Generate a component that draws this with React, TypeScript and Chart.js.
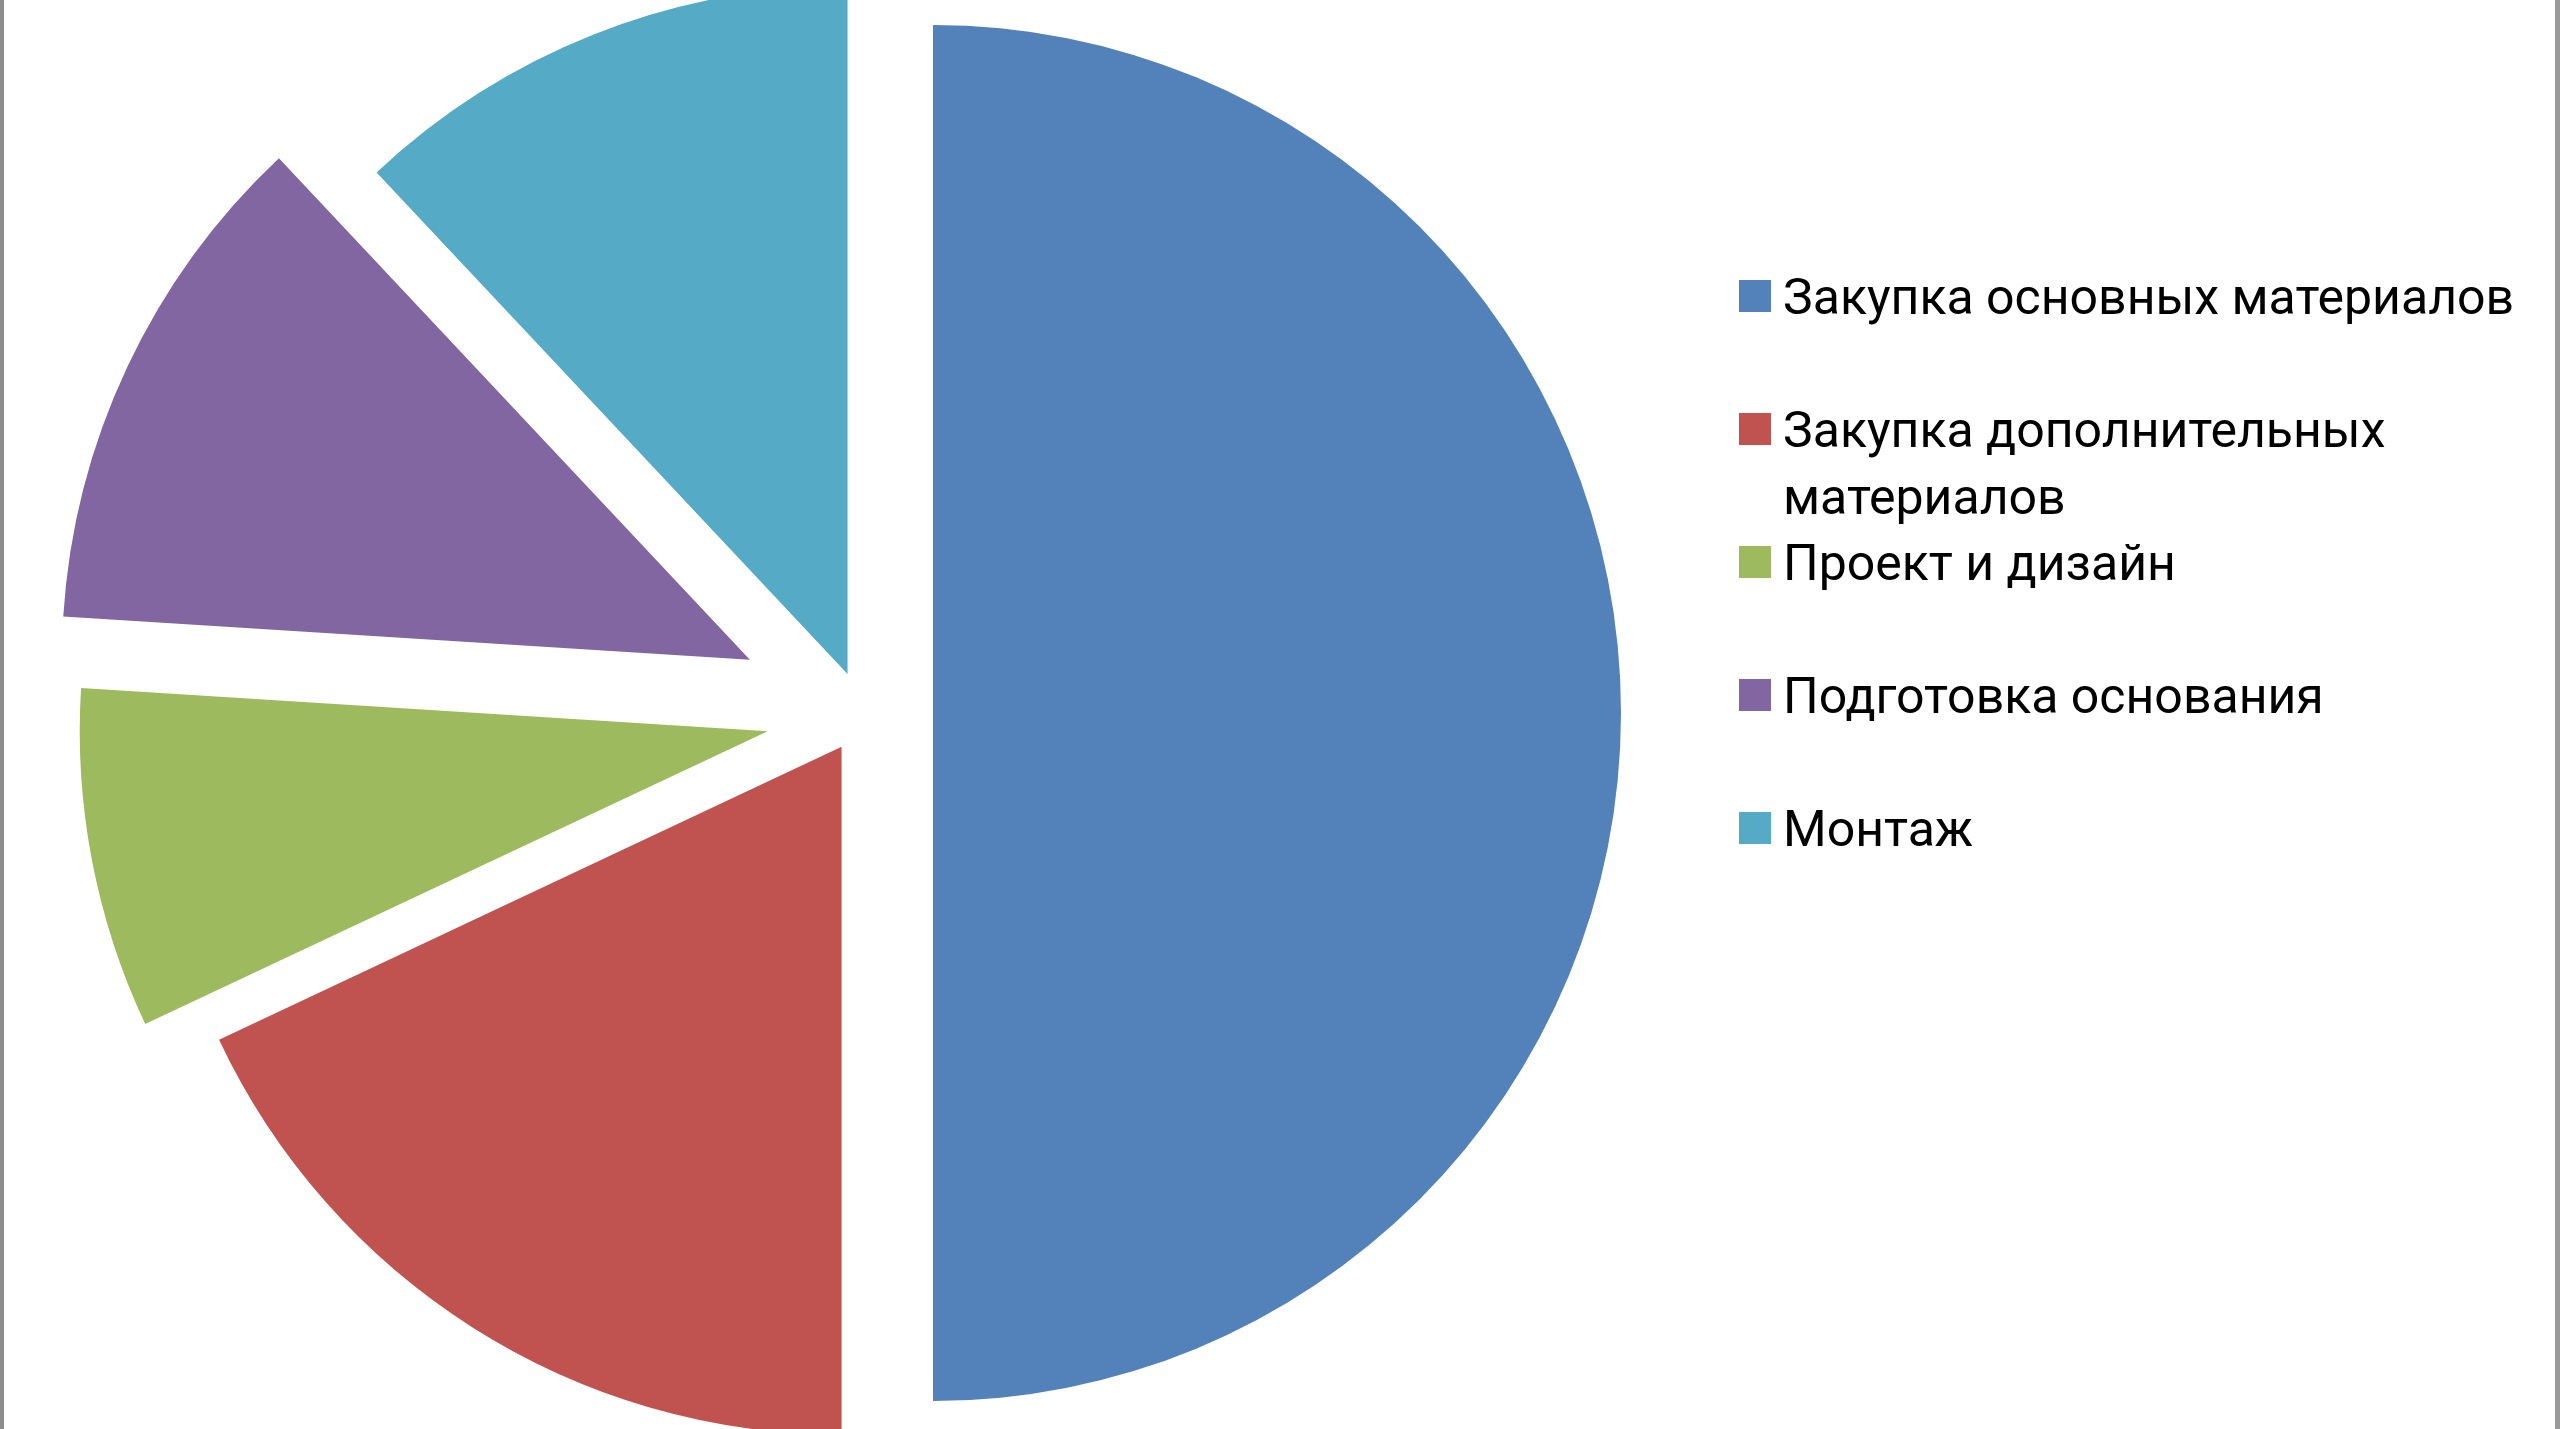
import React, { useEffect, useRef } from 'react';
import { Chart, registerables } from 'chart.js';

Chart.register(...registerables);

// categories and shares (percent of budget)
const categories = [
  'Закупка основных материалов',
  'Закупка дополнительных материалов',
  'Проект и дизайн',
  'Подготовка основания',
  'Монтаж',
];
const legendLines = [
  ['Закупка основных материалов'],
  ['Закупка дополнительных', 'материалов'],
  ['Проект и дизайн'],
  ['Подготовка основания'],
  ['Монтаж'],
];
const shares = [50, 18, 8, 12, 12];
const sliceColors = ['#5381B9', '#C0534F', '#9DBB5E', '#8166A1', '#55AAC5'];
// how far each slice is pulled out of the pie, px
const explode = [70, 40, 97, 125, 42];

// move every arc out along its own bisector (Excel-style explosion)
const explodePlugin = {
  id: 'explode',
  afterDatasetsUpdate(chart: any) {
    const meta = chart.getDatasetMeta(0);
    meta.data.forEach((arc: any, i: number) => {
      const mid = (arc.startAngle + arc.endAngle) / 2;
      const d = explode[i] || 0;
      arc.x += Math.cos(mid) * d;
      arc.y += Math.sin(mid) * d;
    });
  },
};

// legend on the right, evenly spaced like the office chart
const sideLegend = {
  id: 'sideLegend',
  afterDraw(chart: any) {
    const { ctx } = chart;
    const colors = chart.data.datasets[0].backgroundColor as string[];
    ctx.save();
    ctx.font = '50px Roboto';
    ctx.textBaseline = 'alphabetic';
    legendLines.forEach((lines, i) => {
      const cy = 296 + i * 133;
      ctx.fillStyle = colors[i];
      ctx.fillRect(1739, cy - 16, 32, 32);
      ctx.fillStyle = '#000';
      lines.forEach((line, j) => {
        ctx.fillText(line, 1783, cy + 18 + j * 67);
      });
    });
    ctx.restore();
  },
};

const App: React.FC = () => {
  const canvasRef = useRef<HTMLCanvasElement>(null);
  const chartRef = useRef<Chart | null>(null);

  useEffect(() => {
    if (!canvasRef.current) return;
    if (chartRef.current) chartRef.current.destroy();

    chartRef.current = new Chart(canvasRef.current, {
      type: 'pie',
      data: {
        labels: categories,
        datasets: [{
          data: shares,
          backgroundColor: sliceColors,
          borderWidth: 0,
        }],
      },
      options: {
        responsive: true,
        maintainAspectRatio: false,
        animation: false,
        radius: 688,
        layout: { padding: { left: 0, right: 834, top: 0, bottom: 3 } },
        plugins: {
          legend: { display: false },
          tooltip: { enabled: false },
        },
      } as any,
      plugins: [explodePlugin, sideLegend],
    });

    return () => {
      if (chartRef.current) {
        chartRef.current.destroy();
        chartRef.current = null;
      }
    };
  }, []);

  return (
    <div style={{ position: 'fixed', left: 0, top: 0, width: 2560, height: 1429, background: '#fff' }}>
      <canvas ref={canvasRef} />
      <div style={{ position: 'absolute', left: 0, top: 0, width: 4, height: '100%', background: '#8c8c8c' }} />
      <div style={{ position: 'absolute', right: 0, top: 0, width: 5, height: '100%', background: '#9a9a9a' }} />
    </div>
  );
};

export default App;
